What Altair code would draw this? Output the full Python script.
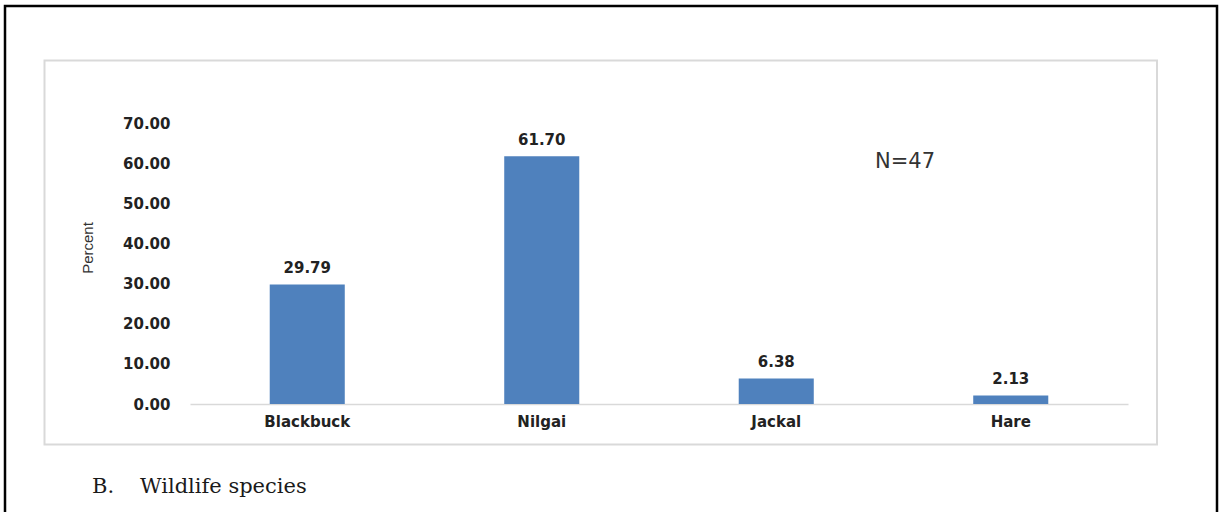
import altair as alt
import pandas as pd

species = ["Blackbuck", "Nilgai", "Jackal", "Hare"]
percent = [29.79, 61.70, 6.38, 2.13]
y_ticks = [0, 10, 20, 30, 40, 50, 60, 70]
y_title = "Percent"
n_label = "N=47"
caption_letter = "B."
caption_text = "Wildlife species"

df = pd.DataFrame({"species": species, "percent": percent})
one = alt.Data(values=[{"k": 1}])

LABEL_FONT = "DejaVu Sans"
TXT = "#222222"

x = alt.X(
    "species:N", sort=species, title=None,
    scale=alt.Scale(paddingInner=0.68, paddingOuter=0.34),
    axis=alt.Axis(labelAngle=0, labelFont=LABEL_FONT, labelFontWeight="bold",
                  labelFontSize=15, labelColor=TXT, labelPadding=10,
                  ticks=False, domainColor="#d9d9d9", domainWidth=1.5),
)
y = alt.Y(
    "percent:Q", title=None,
    scale=alt.Scale(domain=[0, 70], nice=False),
    axis=alt.Axis(values=y_ticks, format=".2f", grid=False, domain=False,
                  ticks=False, labelPadding=20, labelFont=LABEL_FONT,
                  labelFontWeight="bold", labelFontSize=15, labelColor=TXT),
)

outer = alt.Chart(one).mark_rect(fillOpacity=0, stroke="black", strokeWidth=2.5).encode(
    x=alt.value(-185), x2=alt.value(1027), y=alt.value(-117), y2=alt.value(420))
inner = alt.Chart(one).mark_rect(fillOpacity=0, stroke="#d9d9d9", strokeWidth=2).encode(
    x=alt.value(-145.5), x2=alt.value(967), y=alt.value(-62.5), y2=alt.value(321.5))

bars = alt.Chart(df).mark_bar(color="#4F81BD").encode(x=x, y=y)
labels = alt.Chart(df).mark_text(
    dy=-11, baseline="alphabetic", font=LABEL_FONT, fontWeight="bold",
    fontSize=15, color=TXT
).encode(x=x, y=y, text=alt.Text("percent:Q", format=".2f"))

ytitle = alt.Chart(one).mark_text(
    text=y_title, angle=270, font="Liberation Sans", fontSize=15, color="#333333",
    align="center", baseline="middle"
).encode(x=alt.value(-102), y=alt.value(125))

nlab = alt.Chart(one).mark_text(
    text=n_label, font="DejaVu Sans", fontSize=21, color="#333333",
    align="center", baseline="middle"
).encode(x=alt.value(715), y=alt.value(39))

cap1 = alt.Chart(one).mark_text(
    text=caption_letter, font="DejaVu Serif", fontSize=21, color="#1a1a1a",
    align="left", baseline="middle"
).encode(x=alt.value(-98), y=alt.value(364))
cap2 = alt.Chart(one).mark_text(
    text=caption_text, font="DejaVu Serif", fontSize=21, color="#1a1a1a",
    align="left", baseline="middle"
).encode(x=alt.value(-50), y=alt.value(364))

chart = alt.layer(outer, inner, bars, labels, ytitle, nlab, cap1, cap2).properties(
    width=938, height=281,
    autosize=alt.AutoSizeParams(type="none"),
    padding={"left": 190, "top": 123, "right": 93, "bottom": 108},
    background="white",
).configure_view(strokeWidth=0)

chart.save("out.html", embed_options={"renderer": "svg", "actions": False})
